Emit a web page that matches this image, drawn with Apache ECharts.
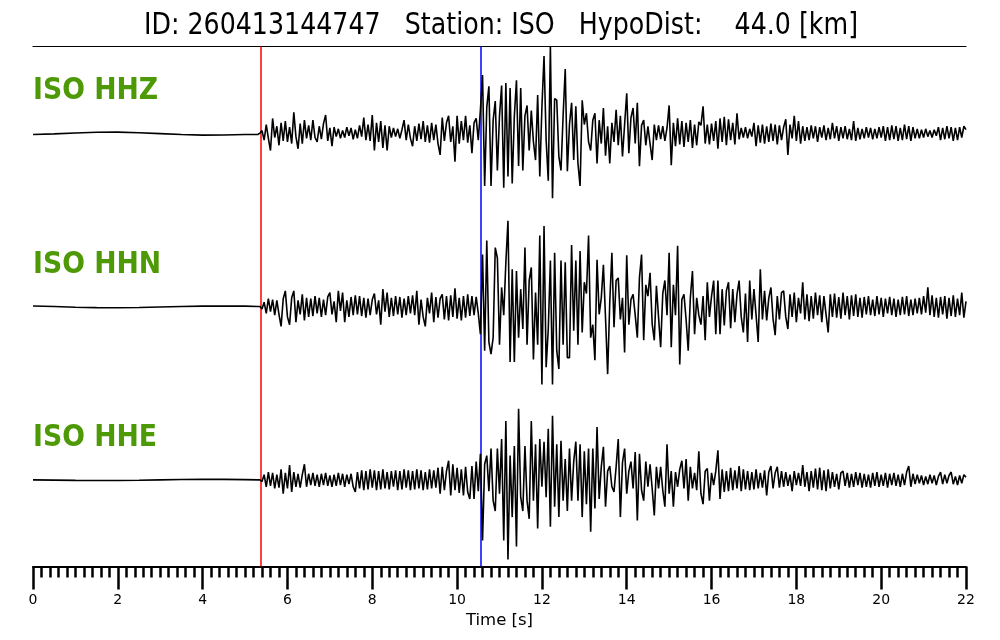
<!DOCTYPE html>
<html>
<head>
<meta charset="utf-8">
<script src="https://cdn.jsdelivr.net/npm/echarts@6/dist/echarts.min.js"></script>
<style>html,body{margin:0;padding:0;background:#fff}#chart{width:1000px;height:640px}</style>
</head>
<body>
<div id="chart"></div>
<script>
// ---- data (normalised amplitude, 100 = trace max) ----
const titleText = 'ID: 260413144747   Station: ISO   HypoDist:    44.0 [km]';
const traceNames = ['ISO HHZ', 'ISO HHN', 'ISO HHE'];
const pickP = 5.36;     // red pick [s]
const pickS = 10.55;    // blue pick [s]
const xMin = 0, xMax = 22, xMajor = 2;

// slow pre-event part
const preTimes = [0, 0.5, 1, 1.5, 2, 2.5, 3, 3.5, 4, 4.5, 5, 5.3];
const hhzPre = [-1.5, -0.8, 0.2, 1.1, 1.2, 0.5, -0.5, -1.6, -2.3, -2.1, -1.6, -1.5];
const hhnPre = [0.5, 0, -0.8, -1.3, -1.5, -1.2, -0.6, 0, 0.4, 0.6, 0.4, 0];
const hhePre = [0, -0.3, -0.6, -0.8, -0.7, -0.4, 0, 0.4, 0.6, 0.5, 0.2, 0];

// sampled part from the onset on
const onsetTime = 5.35;
const sampleStep = 0.05;
const hhz = [
0,3,-8,10,-6,-20,17,-5,8,-14,
12,-9,14,-10,7,-12,24,-4,-18,11,
-12,15,-6,9,-8,15,-5,-10,8,-7,
11,21,-9,6,-15,7,-4,5,-6,3,
-5,7,-3,6,-7,4,-6,9,-4,18,
-8,10,-9,21,-20,12,-10,14,-17,9,
-20,8,-5,6,-4,5,-6,4,15,-8,
10,-6,-15,8,-9,11,-7,14,-10,9,
-11,12,-8,10,-12,-25,18,-9,12,20,
-10,8,-33,20,-12,14,-8,20,-11,9,
-23,12,17,-8,27,67,-61,30,54,-61,
15,37,-43,20,55,-63,58,-50,52,-58,
20,61,-38,52,-43,20,32,-20,26,-10,
-31,44,-50,30,89,-8,-55,100,-75,40,
38,-27,-43,20,74,-44,10,35,-31,31,
-35,-61,38,10,23,-10,-20,15,23,-35,
15,-12,29,-26,8,-35,12,-10,27,-14,
20,-27,10,46,-23,18,29,-12,35,-38,
9,15,-14,8,-12,-31,10,-8,9,-7,
8,-9,6,32,-37,12,-15,17,-13,14,
-16,12,-10,15,-17,10,-14,13,9,31,
-12,10,-13,11,-9,14,-18,17,-10,19,
-14,16,-8,12,-13,23,-7,6,-5,7,
-6,5,-4,12,-15,9,-11,10,-12,8,
-10,11,-9,10,-13,9,-8,7,16,-25,
10,-6,20,-9,14,-12,8,-9,7,-8,
9,-6,8,-10,7,-5,9,-8,6,-7,
12,-6,8,-9,7,-6,8,-7,5,-8,
14,-9,6,-7,5,-6,7,-5,6,-7,
5,-6,7,-5,8,-9,7,-8,9,-7,
8,-9,6,-8,10,-7,8,-9,7,-6,
5,-6,4,-5,5,-4,3,-5,4,-3,
7,-8,6,-7,8,-6,7,-9,6,-8,
7,-5,8,4
];
const hhn = [
0,-3,5,-8,9,-6,8,-10,7,-9,
-23,9,18,-12,-21,10,18,-18,7,-9,
14,-16,10,-12,9,-11,12,-8,10,-12,
8,-10,11,16,-9,6,-18,18,-5,16,
-18,7,-12,11,-10,13,-9,12,-11,10,
-13,9,-10,8,15,-9,7,-21,20,-6,
16,-12,10,-11,12,-9,11,-13,9,-10,
12,-8,13,-10,18,-21,8,-12,-23,10,
-8,16,-18,11,-13,9,14,-15,12,-16,
13,-12,21,-14,10,-16,12,-13,14,-11,
12,-10,11,-8,-32,60,-51,76,-41,-55,
-36,68,56,-44,22,-10,51,99,-64,43,
-64,41,-36,20,-26,68,-44,30,45,-61,
16,-44,82,-90,93,-70,-26,53,-90,62,
-51,-72,53,-44,51,-59,-59,71,-28,53,
-44,64,-30,28,15,82,-36,-21,-62,54,
-9,10,48,-13,-78,5,62,-24,30,33,
-15,10,-53,59,-21,8,14,-10,-36,33,
60,-39,25,12,39,-20,-39,24,-12,-47,
15,30,-10,62,-47,25,-10,70,-67,8,
14,-15,-51,10,41,-32,10,-10,-21,12,
-39,28,-12,12,30,-32,30,-32,20,-22,
18,28,-25,20,-18,14,30,-12,-30,15,
-41,30,-15,20,-10,-41,43,-15,18,-16,
10,22,-14,-33,12,-15,16,18,-12,-26,
14,-12,16,-18,10,-8,28,-15,14,-17,
12,-14,16,-10,13,-18,12,-9,-30,14,
-12,15,-13,11,-14,16,-10,12,-15,13,
-11,14,-12,10,-13,11,-9,12,-10,8,
-11,12,-9,10,-12,9,-8,11,-10,9,
-12,8,-10,11,-9,12,-11,8,-10,9,
-8,10,-9,12,-7,22,-10,13,-12,10,
-13,11,-9,12,-14,10,-11,13,-12,9,
-10,16,-13,6
];
const hhe = [
0,-2,6,-8,9,-7,8,-10,6,-9,
12,-16,8,-10,17,-14,9,-8,7,-9,
6,18,-8,7,-6,8,-7,6,-8,7,
-6,8,-7,5,-8,6,-7,8,-6,7,
-8,6,-5,7,-8,-14,9,-10,11,-12,
10,-11,12,-9,11,-12,10,-11,12,-10,
9,-11,10,-8,11,-12,10,-11,12,-9,
11,-12,10,-11,12,-10,11,-12,9,-11,
12,-10,11,-9,14,-16,15,-12,10,22,
-18,18,-12,14,-15,12,-18,15,-14,-22,
16,-22,21,-13,30,-70,18,28,-13,36,
-24,-36,36,-16,47,-70,68,-92,28,-43,
39,-77,82,-20,-36,39,-24,-45,68,-24,
41,-56,47,-8,44,-20,59,-54,74,-31,
41,-43,45,-24,24,-36,36,-24,21,44,
-24,41,-43,33,-28,36,-60,36,-33,61,
-22,15,38,-31,10,16,-8,-14,15,47,
-43,20,36,-16,10,21,-10,32,-47,30,
-12,-24,21,-8,18,-10,-41,15,-10,15,
-12,-31,41,-16,10,-31,9,-8,12,22,
-10,24,-24,15,-10,8,-12,33,-16,-28,
10,13,-24,8,-6,10,34,-22,12,-14,
10,-13,14,-12,11,-10,16,-13,12,-11,
10,-12,9,-11,12,-10,8,-9,11,-18,
9,16,-10,8,15,-9,10,-8,9,-7,
6,-13,10,-6,8,-7,17,-8,9,-13,
10,-9,13,-11,14,-12,11,-13,12,-10,
9,-8,7,-11,8,10,-7,8,-9,7,
-8,9,-6,8,-9,7,-8,6,-9,8,
-7,9,-8,6,-7,8,-9,7,-6,8,
-7,6,-8,7,-6,9,16,-8,7,-5,
6,-4,5,-6,4,-5,6,-4,5,-6,
4,9,-5,6,-4,5,9,-5,4,-6,
5,-4,6,3
];

// ---- build chart ----
const FONT = '"DejaVu Sans"';
const traceOffsets = [2.5, 1.5, 0.5];   // trace centre lines in a 0..3 y range
const ampScale = 200;                   // 100 -> half a trace slot
function buildTrace(pre, post, off) {
  const pts = preTimes.map((t, i) => [t, off + pre[i] / ampScale]);
  post.forEach((v, i) => pts.push([+(onsetTime + i * sampleStep).toFixed(2), off + v / ampScale]));
  return pts;
}
const traces = [[hhzPre, hhz], [hhnPre, hhn], [hhePre, hhe]];

const series = traces.map((tr, k) => ({
  type: 'line',
  name: traceNames[k],
  data: buildTrace(tr[0], tr[1], traceOffsets[k]),
  showSymbol: false,
  symbol: 'none',
  lineStyle: { color: '#000', width: 1.6 },
  z: 3,
  silent: true
}));
series[0].markLine = {
  silent: true,
  symbol: 'none',
  label: { show: false },
  z: 2,
  data: [
    { xAxis: pickP, lineStyle: { color: '#ff0000', width: 1.5, type: 'solid' } },
    { xAxis: pickS, lineStyle: { color: '#0000ff', width: 1.5, type: 'solid' } }
  ]
};

const chart = echarts.init(document.getElementById('chart'));
chart.setOption({
  animation: false,
  backgroundColor: '#fff',
  grid: { left: 33, right: 34, top: 46.5, bottom: 73.5 },
  xAxis: [
    {
      type: 'value', min: xMin, max: xMax, interval: xMajor, position: 'bottom',
      axisLine: { show: true, onZero: false, lineStyle: { color: '#000', width: 1.8 } },
      axisTick: { show: true, length: 23, lineStyle: { color: '#000', width: 2.5 } },
      minorTick: { show: true, splitNumber: 10, length: 11, lineStyle: { color: '#000', width: 2.5 } },
      axisLabel: { fontFamily: 'DejaVu Sans', fontSize: 14, color: '#000', margin: 27 },
      splitLine: { show: false },
      name: 'Time [s]', nameLocation: 'middle', nameGap: 40,
      nameTextStyle: { fontFamily: 'DejaVu Sans', fontSize: 16.5, color: '#000' }
    },
    {
      type: 'value', min: xMin, max: xMax, position: 'top',
      axisLine: { show: true, onZero: false, lineStyle: { color: '#000', width: 1.2 } },
      axisTick: { show: false }, axisLabel: { show: false }, splitLine: { show: false }
    }
  ],
  yAxis: { type: 'value', min: 0, max: 3, show: false },
  graphic: [
    { type: 'text', x: 501, y: 26.5, scaleY: 1.17,
      style: { text: titleText, x: 0, y: 0, font: '25.3px ' + FONT, fill: '#000', textAlign: 'center', textVerticalAlign: 'middle' } },
    ...traceNames.map((n, k) => ({
      type: 'text', x: 33, y: 91.5 + 173.5 * k, scaleY: 1.12,
      style: { text: n, x: 0, y: 0, font: 'bold 26.7px ' + FONT, fill: '#4e9a06', textAlign: 'left', textVerticalAlign: 'middle' }
    }))
  ],
  series: series
});
</script>
</body>
</html>
